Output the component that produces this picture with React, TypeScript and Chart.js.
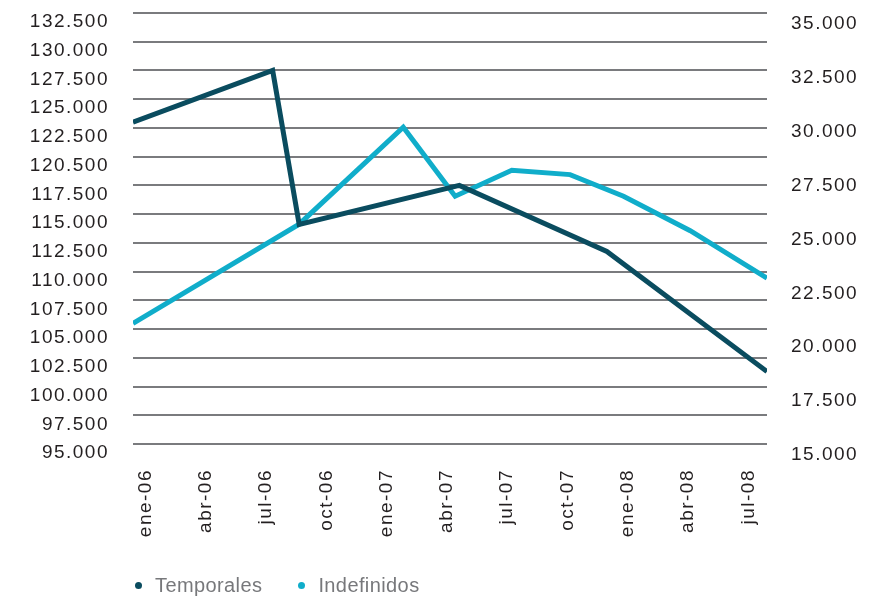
import React, { useEffect, useRef } from 'react';
import { Chart, registerables } from 'chart.js';

Chart.register(...registerables);

// X axis: months counted from ene-06 (0); labels every quarter
const xTickMonths = [0, 3, 6, 9, 12, 15, 18, 21, 24, 27, 30];
const xTickLabels = ['ene-06', 'abr-06', 'jul-06', 'oct-06', 'ene-07', 'abr-07', 'jul-07', 'oct-07', 'ene-08', 'abr-08', 'jul-08'];
const xMin = -0.62;
const xMax = 30.93;

// Left axis (Temporales)
const leftMin = 95000;
const leftMax = 132500;
const leftStep = 2500;
const leftTickLabels = ['95.000', '97.500', '100.000', '102.500', '105.000', '107.500', '110.000', '112.500', '115.000', '117.500', '120.500', '122.500', '125.000', '127.500', '130.000', '132.500'];

// Right axis (Indefinidos)
const rightMin = 15000;
const rightMax = 35000;
const rightStep = 2500;
const rightTickLabels = ['15.000', '17.500', '20.000', '22.500', '25.000', '27.500', '30.000', '32.500', '35.000'];

// Series
const seriesNames = ['Temporales', 'Indefinidos'];
const seriesColors = ['#0a4c5f', '#10adca'];

const temporalesMonths = [-0.62, 6.33, 7.65, 15.62, 22.96, 30.93];
const temporalesValues = [123000, 127500, 114100, 117500, 111750, 101300];

const indefinidosMonths = [-0.62, 7.65, 12.83, 15.41, 18.23, 21.13, 23.79, 27.11, 30.93];
const indefinidosValues = [20600, 25200, 29700, 26500, 27700, 27500, 26500, 24900, 22700];

const FONT_FAMILY = "'Liberation Sans', Arial, Helvetica, sans-serif";
const AXIS_COLOR = '#231f20';
const GRID_COLOR = '#7a7b7e';

const spacingPlugin = {
  id: 'letterSpacing',
  beforeDraw(chart: any) {
    (chart.ctx as any).letterSpacing = '1.5px';
  },
};

const noPad = (s: any) => {
  s.paddingTop = 0;
  s.paddingBottom = 0;
  s.paddingLeft = 0;
  s.paddingRight = 0;
};

export default function App() {
  const canvasRef = useRef<HTMLCanvasElement | null>(null);

  useEffect(() => {
    if (!canvasRef.current) return;
    const axisFont = { family: FONT_FAMILY, size: 19 };
    const chart = new Chart(canvasRef.current, {
      type: 'line',
      data: {
        datasets: [
          {
            label: seriesNames[0],
            data: temporalesMonths.map((m, i) => ({ x: m, y: temporalesValues[i] })),
            yAxisID: 'yLeft',
            borderColor: seriesColors[0],
            backgroundColor: seriesColors[0],
            borderWidth: 5,
            pointRadius: 0,
            tension: 0,
            fill: false,
            borderJoinStyle: 'miter',
          },
          {
            label: seriesNames[1],
            data: indefinidosMonths.map((m, i) => ({ x: m, y: indefinidosValues[i] })),
            yAxisID: 'yRight',
            borderColor: seriesColors[1],
            backgroundColor: seriesColors[1],
            borderWidth: 5,
            pointRadius: 0,
            tension: 0,
            fill: false,
            borderJoinStyle: 'miter',
          },
        ],
      },
      options: {
        animation: false,
        responsive: false,
        events: [],
        layout: { padding: { top: 13, left: 0, right: 0, bottom: 0 } },
        plugins: {
          legend: { display: false },
          tooltip: { enabled: false },
        },
        scales: {
          x: {
            type: 'linear',
            min: xMin,
            max: xMax,
            bounds: 'data',
            grid: { display: false, drawTicks: false },
            border: { display: false },
            afterBuildTicks: (s: any) => {
              s.ticks = xTickMonths.map((v) => ({ value: v }));
            },
            afterFit: (s: any) => {
              s.height = 155;
              noPad(s);
            },
            ticks: {
              autoSkip: false,
              minRotation: 90,
              maxRotation: 90,
              padding: 25,
              color: AXIS_COLOR,
              font: axisFont,
              callback: (_v: any, i: number) => xTickLabels[i],
            },
          },
          yLeft: {
            type: 'linear',
            position: 'left',
            min: leftMin,
            max: leftMax,
            grid: { color: GRID_COLOR, lineWidth: 2, drawTicks: false },
            border: { display: false },
            afterFit: (s: any) => {
              s.width = 133;
              noPad(s);
            },
            ticks: {
              stepSize: leftStep,
              maxTicksLimit: 30,
              autoSkip: false,
              padding: 24,
              labelOffset: 9,
              color: AXIS_COLOR,
              font: axisFont,
              callback: (_v: any, i: number) => leftTickLabels[i],
            },
          },
          yRight: {
            type: 'linear',
            position: 'right',
            min: rightMin,
            max: rightMax,
            grid: { display: false, drawTicks: false },
            border: { display: false },
            afterFit: (s: any) => {
              s.width = 129;
              noPad(s);
            },
            ticks: {
              stepSize: rightStep,
              maxTicksLimit: 30,
              autoSkip: false,
              padding: 24,
              labelOffset: 11,
              color: AXIS_COLOR,
              font: axisFont,
              callback: (_v: any, i: number) => rightTickLabels[i],
            },
          },
        },
      } as any,
      plugins: [spacingPlugin],
    });
    return () => chart.destroy();
  }, []);

  return (
    <div style={{ position: 'fixed', left: 0, top: 0, width: 896, height: 599, background: '#fff', overflow: 'hidden' }}>
      <canvas ref={canvasRef} width={896} height={599} style={{ position: 'absolute', left: 0, top: 0, display: 'block' }} />
      <div
        style={{
          position: 'absolute',
          left: 135,
          top: 573.5,
          display: 'flex',
          alignItems: 'center',
          fontFamily: FONT_FAMILY,
          fontSize: 20,
          lineHeight: '23px',
          color: '#77787b',
          letterSpacing: '0.4px',
        }}
      >
        {seriesNames.map((name, i) => (
          <div key={name} style={{ display: 'flex', alignItems: 'center', marginRight: 36 }}>
            <span
              style={{
                display: 'inline-block',
                width: 7,
                height: 7,
                borderRadius: '50%',
                background: seriesColors[i],
                marginRight: 13,
              }}
            />
            <span>{name}</span>
          </div>
        ))}
      </div>
    </div>
  );
}
